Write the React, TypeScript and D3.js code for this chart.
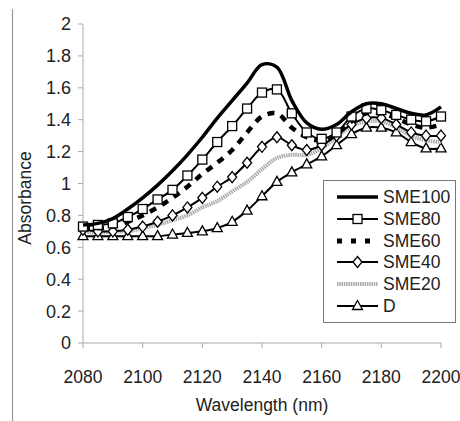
import React from "react";
import * as d3 from "d3";

const wavelengths = [2080, 2085, 2090, 2095, 2100, 2105, 2110, 2115, 2120, 2125, 2130, 2135, 2140, 2145, 2150, 2155, 2160, 2165, 2170, 2175, 2180, 2185, 2190, 2195, 2200];

const sme100 = [0.74, 0.75, 0.78, 0.84, 0.91, 0.99, 1.08, 1.18, 1.29, 1.41, 1.52, 1.63, 1.745, 1.73, 1.52, 1.38, 1.34, 1.37, 1.45, 1.50, 1.50, 1.47, 1.44, 1.43, 1.48];
const sme80 = [0.73, 0.74, 0.75, 0.79, 0.84, 0.90, 0.96, 1.05, 1.15, 1.26, 1.36, 1.47, 1.57, 1.59, 1.44, 1.32, 1.28, 1.32, 1.42, 1.47, 1.46, 1.43, 1.40, 1.39, 1.42];
const sme60 = [0.72, 0.72, 0.73, 0.76, 0.80, 0.85, 0.91, 0.98, 1.06, 1.13, 1.21, 1.32, 1.42, 1.44, 1.35, 1.29, 1.27, 1.31, 1.39, 1.44, 1.44, 1.41, 1.37, 1.35, 1.37];
const sme40 = [0.71, 0.70, 0.70, 0.71, 0.73, 0.76, 0.80, 0.85, 0.91, 0.98, 1.04, 1.13, 1.23, 1.29, 1.24, 1.21, 1.24, 1.30, 1.37, 1.41, 1.41, 1.37, 1.32, 1.30, 1.30];
const sme20 = [0.70, 0.69, 0.70, 0.70, 0.72, 0.74, 0.77, 0.80, 0.85, 0.89, 0.95, 1.01, 1.09, 1.16, 1.18, 1.18, 1.22, 1.29, 1.36, 1.39, 1.39, 1.35, 1.30, 1.27, 1.26];
const dSeries = [0.67, 0.67, 0.67, 0.67, 0.67, 0.67, 0.68, 0.69, 0.70, 0.72, 0.76, 0.83, 0.92, 1.01, 1.07, 1.12, 1.17, 1.24, 1.31, 1.35, 1.35, 1.32, 1.26, 1.22, 1.22];

const seriesNames = ["SME100", "SME80", "SME60", "SME40", "SME20", "D"];
const seriesValues = [sme100, sme80, sme60, sme40, sme20, dSeries];

const xTicks = [2080, 2100, 2120, 2140, 2160, 2180, 2200];
const yTicks = [0, 0.2, 0.4, 0.6, 0.8, 1, 1.2, 1.4, 1.6, 1.8, 2];

type Style = { stroke: string; width: number; dash?: string; marker?: "square" | "diamond" | "triangle" };
const styles: Style[] = [
  { stroke: "#000", width: 3.5 },
  { stroke: "#000", width: 2, marker: "square" },
  { stroke: "#000", width: 4.5, dash: "7,7" },
  { stroke: "#000", width: 2, marker: "diamond" },
  { stroke: "#aaa", width: 4, dash: "1.5,0.8" },
  { stroke: "#000", width: 2, marker: "triangle" },
];

const FONT = "'Liberation Sans', Arial, sans-serif";

function Marker({ type, x, y }: { type?: string; x: number; y: number }) {
  if (type === "square") return <rect x={x - 4.5} y={y - 4.5} width={9} height={9} fill="#fff" stroke="#000" strokeWidth={1.3} />;
  if (type === "diamond") return <path d={`M${x},${y - 5.5}L${x + 4.5},${y}L${x},${y + 5.5}L${x - 4.5},${y}Z`} fill="#fff" stroke="#000" strokeWidth={1.3} />;
  if (type === "triangle") return <path d={`M${x},${y - 5.5}L${x + 5},${y + 3.5}L${x - 5},${y + 3.5}Z`} fill="#fff" stroke="#000" strokeWidth={1.3} />;
  return null;
}

export default function App() {
  const x = d3.scaleLinear().domain([2080, 2200]).range([83, 441]);
  const y = d3.scaleLinear().domain([0, 2]).range([343, 24]);
  const line = d3.line<number>()
    .x((_, i) => x(wavelengths[i]))
    .y((v) => y(v))
    .curve(d3.curveCatmullRom.alpha(0.5));

  const legendX1 = 337, legendX2 = 378;
  const legendRows = [197, 219, 241, 262, 284, 306];

  return (
    <svg width={460} height={421} style={{ position: "absolute", left: 0, top: 0 }} fontFamily={FONT}>
      <rect width={460} height={421} fill="#fff" />
      <line x1={12.5} x2={12.5} y1={9} y2={421} stroke="#999" strokeWidth={1.2} />
      {/* axes */}
      <line x1={83} x2={83} y1={24} y2={343} stroke="#aaa" strokeWidth={1} />
      <line x1={83} x2={441} y1={343} y2={343} stroke="#aaa" strokeWidth={1} />
      {yTicks.map((t) => (
        <g key={"y" + t}>
          <line x1={78} x2={83} y1={y(t)} y2={y(t)} stroke="#aaa" />
          <text x={71} y={y(t)} dy="0.36em" textAnchor="end" fontSize={18} fill="#222">{String(t)}</text>
        </g>
      ))}
      {xTicks.map((t) => (
        <g key={"x" + t}>
          <line x1={x(t)} x2={x(t)} y1={343} y2={348} stroke="#aaa" />
          <text x={x(t)} y={383} textAnchor="middle" fontSize={17.5} fill="#222">{String(t)}</text>
        </g>
      ))}
      <text x={262} y={411} textAnchor="middle" fontSize={17.5} fill="#222">Wavelength (nm)</text>
      <text transform="translate(31,198) rotate(-90)" textAnchor="middle" fontSize={17.5} fill="#222">Absorbance</text>
      {/* series */}
      {seriesValues.map((vals, si) => {
        const s = styles[si];
        return (
          <g key={seriesNames[si]}>
            <path d={line(vals) || ""} fill="none" stroke={s.stroke} strokeWidth={s.width} strokeDasharray={s.dash} />
            {s.marker && vals.map((v, i) => <Marker key={i} type={s.marker} x={x(wavelengths[i])} y={y(v)} />)}
          </g>
        );
      }).reverse()}
      {/* legend */}
      <rect x={323.5} y={180.5} width={132} height={142} fill="#fff" stroke="#777" strokeWidth={1} />
      {seriesNames.map((n, i) => {
        const s = styles[i];
        const ly = legendRows[i];
        return (
          <g key={"l" + n}>
            <line x1={legendX1} x2={legendX2} y1={ly} y2={ly} stroke={s.stroke} strokeWidth={i === 2 ? 5 : s.width} strokeDasharray={i === 2 ? "5,9" : s.dash} />
            <Marker type={s.marker} x={(legendX1 + legendX2) / 2} y={ly} />
            <text x={383} y={ly} dy="0.36em" fontSize={17.5} fill="#222">{n}</text>
          </g>
        );
      })}
    </svg>
  );
}
